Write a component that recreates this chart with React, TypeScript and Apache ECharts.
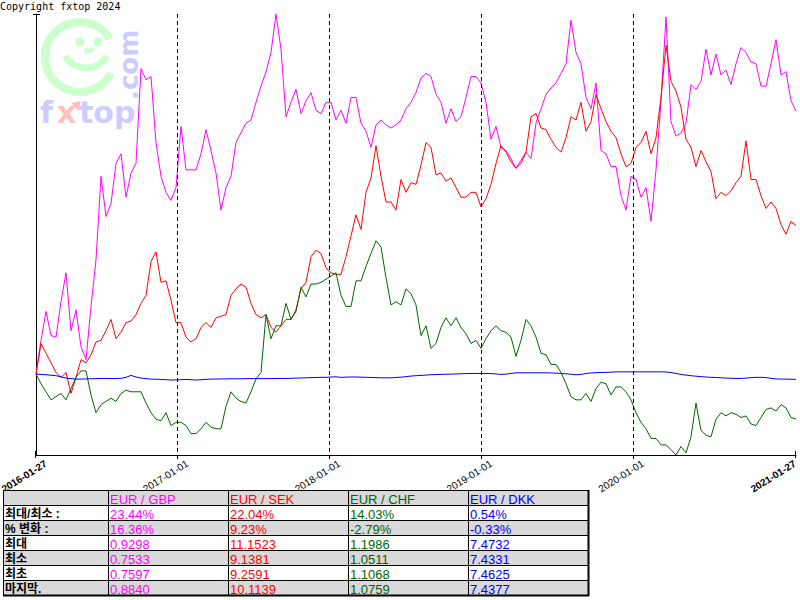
import React, { useEffect, useRef } from "react";
import * as echarts from "echarts";

// ---- data -----------------------------------------------------------------
const startDate = "2016-01-27";
const endDate = "2021-01-27";
const axisDates = ["2016-01-27", "2017-01-01", "2018-01-01", "2019-01-01", "2020-01-01", "2021-01-27"];
const yearLines = ["2017-01-01", "2018-01-01", "2019-01-01", "2020-01-01"];

const pairNames = ["EUR / GBP", "EUR / SEK", "EUR / CHF", "EUR / DKK"];
const pairColors = ["#ff00ff", "#ff0000", "#006600", "#0000ff"];

// % change versus the first quote, sampled evenly from 2016-01-27 to 2021-01-27
const eurGbp = [
  0, 2.1, 3.9, 2.4, 2.3, 4.5, 6.3, 2.7, 4.0, 1.7, 0.9, 4.2, 7.1, 12.3, 9.8, 10.6, 13.1, 13.7, 11.0, 12.5, 13.1, 19.0, 18.3, 18.5, 14.4, 12.3, 11.3, 10.8, 11.6, 15.4, 12.7,
  12.7, 12.7, 13.7, 15.2, 13.9, 12.5, 10.2, 11.6, 12.3, 14.4, 15.0, 15.6, 15.8, 16.9, 17.9, 18.8, 20.0, 22.39, 20.2, 16.0, 16.9, 17.7, 16.2, 17.0, 17.5, 16.4, 16.2, 16.9, 16.9, 15.8,
  16.4, 15.6, 17.2, 17.2, 15.6, 15.1, 14.1, 15.5, 15.8, 15.5, 15.3, 15.5, 15.8, 16.5, 16.9, 17.5, 18.4, 18.7, 18.5, 17.4, 16.9, 15.6, 16.5, 15.7, 16.0, 17.2, 18.5, 18.5, 18.1, 16.9,
  14.6, 15.4, 14.1, 13.9, 13.4, 12.8, 13.3, 13.8, 13.4, 15.6, 16.5, 17.4, 17.8, 18.1, 18.7, 19.3, 22.0, 20.0, 19.3, 17.2, 16.5, 18.1, 13.9, 13.7, 12.9, 12.9, 11.1, 10.2, 12.3, 12.1,
  11.0, 11.6, 9.5, 12.7, 17.0, 22.2, 15.7, 14.8, 15.0, 15.6, 18.0, 17.7, 18.2, 20.2, 18.6, 19.9, 18.6, 18.9, 18.0, 19.3, 20.3, 20.0, 19.4, 19.3, 17.9, 17.9, 19.3, 20.8, 18.6, 18.8, 17.0, 16.36,
];
const eurSek = [
  0, 1.9, 1.3, 0.7, 0.1, -0.2, 0.1, -1.2, -0.2, 0.9, 0.7, 1.2, 2.0, 2.1, 2.7, 3.4, 2.2, 2.6, 3.2, 3.3, 3.7, 4.4, 4.9, 7.0, 7.6, 5.7, 5.8, 4.6, 3.2, 3.2, 2.3,
  2.0, 2.2, 2.9, 3.2, 2.9, 3.5, 3.6, 3.7, 4.9, 5.3, 5.6, 5.4, 4.4, 3.7, 3.5, 3.7, 2.9, 2.6, 3.0, 3.4, 3.4, 4.0, 5.3, 5.7, 7.3, 7.7, 7.5, 6.6, 6.3, 6.2,
  6.2, 7.3, 8.6, 9.9, 9.0, 11.3, 12.2, 14.2, 12.3, 10.7, 10.7, 10.2, 12.1, 11.3, 11.9, 11.8, 13.0, 14.4, 14.1, 12.4, 12.5, 12.0, 12.2, 11.6, 11.0, 11.0, 11.3, 11.3, 10.4, 10.9,
  11.8, 13.1, 14.2, 13.8, 13.2, 12.8, 13.1, 13.8, 16.0, 16.2, 15.3, 15.2, 14.6, 14.1, 13.8, 14.7, 16.0, 15.8, 16.9, 15.1, 15.7, 17.4, 16.5, 15.7, 15.1, 14.7, 13.7, 12.9, 13.1, 14.1,
  14.4, 15.1, 13.7, 14.7, 17.2, 20.45, 18.2, 17.6, 16.6, 14.6, 14.1, 12.9, 13.9, 13.2, 12.6, 10.9, 11.3, 11.1, 11.4, 11.9, 12.3, 14.5, 12.1, 12.1, 11.1, 10.3, 10.7, 10.3, 9.3, 8.7, 9.5, 9.23,
];
const eurChf = [
  0, -0.6, -1.1, -1.6, -1.4, -1.2, -1.6, -0.9, -0.2, 0.2, 0.2, -1.3, -2.4, -1.9, -1.7, -1.5, -1.7, -1.2, -1.0, -1.1, -1.1, -1.1, -1.8, -2.4, -2.8, -2.9, -2.4, -3.2, -3.0, -3.0, -3.2,
  -3.7, -3.7, -3.4, -3.0, -3.3, -3.4, -3.4, -2.0, -1.1, -1.5, -1.7, -1.8, -1.1, -0.3, 0.1, 3.7, 2.2, 3.0, 3.0, 4.4, 3.4, 3.9, 5.4, 4.8, 5.6, 5.6, 5.7, 5.9, 6.1, 6.3,
  4.9, 4.2, 4.2, 5.8, 5.8, 6.7, 7.5, 8.29, 7.9, 6.0, 4.3, 4.5, 4.3, 5.3, 5.0, 4.3, 2.4, 3.0, 1.6, 1.9, 2.9, 3.5, 3.0, 3.5, 2.9, 2.5, 1.9, 2.1, 1.6, 2.2,
  2.7, 3.0, 2.7, 2.6, 2.3, 1.1, 2.1, 3.4, 3.0, 2.3, 1.3, 1.2, 0.6, 0.6, 0.1, -0.6, -1.4, -1.6, -1.6, -1.2, -1.7, -0.9, -0.5, -0.6, -1.3, -0.8, -0.8, -1.1, -1.6, -2.4,
  -3.0, -3.4, -4.0, -4.0, -4.4, -4.4, -4.7, -5.03, -4.5, -4.9, -3.9, -1.8, -3.5, -3.8, -3.9, -2.8, -2.4, -2.6, -2.4, -2.5, -2.7, -2.6, -3.1, -3.2, -2.7, -2.2, -2.1, -2.3, -1.9, -2.1, -2.7, -2.79,
];
const eurDkk = [
  0, -0.02, -0.04, -0.07, -0.1, -0.17, -0.25, -0.28, -0.31, -0.31, -0.3, -0.29, -0.28, -0.27, -0.27, -0.28, -0.27, -0.26, -0.2, -0.08, -0.18, -0.25, -0.28, -0.31, -0.32, -0.33, -0.35, -0.37, -0.36, -0.35, -0.33,
  -0.35, -0.37, -0.35, -0.33, -0.31, -0.31, -0.3, -0.3, -0.29, -0.29, -0.29, -0.28, -0.28, -0.28, -0.28, -0.28, -0.28, -0.27, -0.27, -0.27, -0.26, -0.25, -0.24, -0.23, -0.22, -0.21, -0.2, -0.2, -0.18, -0.17,
  -0.2, -0.19, -0.18, -0.18, -0.19, -0.2, -0.21, -0.22, -0.23, -0.23, -0.23, -0.21, -0.19, -0.16, -0.12, -0.1, -0.08, -0.06, -0.04, -0.03, -0.02, -0.01, 0, 0.01, 0.02, 0.03, 0.04, 0.04, 0.04, 0.04,
  0.03, 0.01, -0.02, 0, 0.04, 0.08, 0.08, 0.08, 0.08, 0.08, 0.08, 0.08, 0.07, 0.06, 0.04, 0.02, -0.01, -0.04, -0.02, 0.04, 0.07, 0.09, 0.1, 0.11, 0.12, 0.14, 0.14, 0.14, 0.14, 0.14,
  0.14, 0.14, 0.14, 0.14, 0.14, 0.13, 0.1, 0.04, -0.02, -0.06, -0.1, -0.13, -0.16, -0.18, -0.2, -0.21, -0.23, -0.25, -0.26, -0.27, -0.27, -0.25, -0.22, -0.2, -0.2, -0.22, -0.26, -0.3, -0.31, -0.31, -0.32, -0.33,
];

const yMin = -5.03;
const yMax = 22.39;

const rowLabels = ["최대/최소 :", "% 변화 :", "최대", "최소", "최초", "마지막."];
const gbpStats = ["23.44%", "16.36%", "0.9298", "0.7533", "0.7597", "0.8840"];
const sekStats = ["22.04%", "9.23%", "11.1523", "9.1381", "9.2591", "10.1139"];
const chfStats = ["14.03%", "-2.79%", "1.1986", "1.0511", "1.1068", "1.0759"];
const dkkStats = ["0.54%", "-0.33%", "7.4732", "7.4331", "7.4625", "7.4377"];

const ts = (d: string) => Date.parse(d + "T00:00:00Z");

export default function App() {
  const ref = useRef<HTMLDivElement>(null);

  useEffect(() => {
    if (!ref.current) return;
    const chart = echarts.init(ref.current, null, { renderer: "svg" });
    const t0 = ts(startDate);
    const t1 = ts(endDate);
    const toPairs = (arr: number[]) => arr.map((v, i) => [t0 + ((t1 - t0) * i) / (arr.length - 1), v]);
    const seriesData = [eurGbp, eurSek, eurChf, eurDkk];

    chart.setOption({
      animation: false,
      backgroundColor: "#ffffff",
      grid: { left: 36, right: 4, top: 14, bottom: 145 },
      tooltip: { show: false },
      xAxis: {
        type: "time",
        min: t0,
        max: t1,
        axisLine: { show: true, onZero: false, lineStyle: { color: "#000", width: 1 } },
        axisTick: { show: false },
        axisLabel: { show: false },
        splitLine: { show: false },
      },
      yAxis: {
        type: "value",
        min: yMin,
        max: yMax,
        axisLine: { show: true, onZero: false, lineStyle: { color: "#000", width: 1 } },
        axisTick: { show: false },
        axisLabel: { show: false },
        splitLine: { show: false },
      },
      series: seriesData.map((arr, i) => ({
        name: pairNames[i],
        type: "line",
        data: toPairs(arr),
        symbol: "none",
        showSymbol: false,
        silent: true,
        lineStyle: { width: 1, color: pairColors[i] },
        itemStyle: { color: pairColors[i] },
        emphasis: { disabled: true },
      })),
    });

    const px = (d: string) => chart.convertToPixel({ xAxisIndex: 0 }, ts(d)) as number;
    const axisY = Math.round(chart.convertToPixel({ yAxisIndex: 0 }, yMin) as number);
    const topY = Math.round(chart.convertToPixel({ yAxisIndex: 0 }, yMax) as number);
    const x0 = Math.round(px(startDate));

    const mint = "#ccffcc";
    const lav = "#ccccff";
    const pink = "#ffc0c0";
    const D = Math.PI / 180;
    const els: any[] = [];

    // watermark logo
    els.push(
      { type: "arc", shape: { cx: 80, cy: 57, r: 35, startAngle: 28 * D, endAngle: 328 * D, clockwise: true }, style: { stroke: mint, lineWidth: 8, fill: null } },
      { type: "rect", shape: { x: 41, y: 48, width: 9, height: 8 }, style: { fill: mint } },
      { type: "circle", shape: { cx: 80, cy: 42, r: 4.5 }, style: { fill: mint } },
      { type: "circle", shape: { cx: 98, cy: 42, r: 4.5 }, style: { fill: mint } },
      { type: "polygon", shape: { points: [[84, 49], [93, 47], [94, 52], [85, 54]] }, style: { fill: mint } },
      { type: "arc", shape: { cx: 86, cy: 44, r: 24, startAngle: 30 * D, endAngle: 150 * D, clockwise: true }, style: { stroke: mint, lineWidth: 7, fill: null } },
      { type: "text", x: 40, y: 112, style: { text: "f", fontSize: 30, fontWeight: "bold", fontFamily: "DejaVu Sans", fill: lav, verticalAlign: "middle" } },
      { type: "text", x: 57, y: 112, style: { text: "x", fontSize: 30, fontWeight: "bold", fontFamily: "DejaVu Sans", fill: pink, verticalAlign: "middle" } },
      { type: "polygon", shape: { points: [[71, 103], [81, 101], [79, 111]] }, style: { fill: pink } },
      { type: "text", x: 79, y: 112, style: { text: "top", fontSize: 30, fontWeight: "bold", fontFamily: "DejaVu Sans", fill: lav, verticalAlign: "middle" } },
      { type: "text", x: 129, y: 100, rotation: Math.PI / 2, style: { text: ".com", fontSize: 26, fontWeight: "bold", fontFamily: "DejaVu Sans", fill: lav, align: "left", verticalAlign: "middle" } },
      { type: "text", x: 0, y: 1, style: { text: "Copyright fxtop 2024", fontSize: 10, fontFamily: "DejaVu Sans Mono", fill: "#000", verticalAlign: "top" } }
    );

    // axis decorations
    els.push({ type: "line", shape: { x1: x0 - 3, y1: topY + 0.5, x2: x0 + 4, y2: topY + 0.5 }, style: { stroke: "#000", lineWidth: 1 } });
    [startDate, endDate].forEach((d) => {
      const x = Math.round(px(d)) - 0.5;
      els.push({ type: "line", shape: { x1: x, y1: axisY - 4, x2: x, y2: axisY + 3 }, style: { stroke: "#000", lineWidth: 1 } });
    });
    yearLines.forEach((d) => {
      const x = Math.round(px(d)) + 0.5;
      els.push({ type: "line", z: 10, shape: { x1: x, y1: topY, x2: x, y2: axisY + 5 }, style: { stroke: "#000", lineWidth: 1, lineDash: [4, 3] } });
    });
    axisDates.forEach((d, i) => {
      const edge = i === 0 || i === axisDates.length - 1;
      els.push({
        type: "text",
        x: Math.min(px(d) + 7, 792),
        y: axisY + 3,
        rotation: 32 * D,
        style: {
          text: d,
          fontSize: 10,
          lineHeight: 11,
          fontWeight: edge ? "bold" : "normal",
          fontFamily: "Liberation Sans",
          fill: "#000",
          align: "right",
          verticalAlign: "top",
        },
      });
    });

    // statistics table
    const colX = [3, 108, 228, 348, 468, 588];
    const rowTop = 490;
    const rowH = 15;
    const columns = [gbpStats, sekStats, chfStats, dkkStats];
    const nRows = rowLabels.length + 1;
    for (let r = 0; r < nRows; r++) {
      els.push({ type: "rect", shape: { x: colX[0], y: rowTop + r * rowH, width: colX[5] - colX[0], height: rowH }, style: { fill: r % 2 === 0 ? "#d9d9d9" : "#ffffff" } });
    }
    for (let r = 0; r <= nRows; r++) {
      const y = rowTop + r * rowH + 0.5;
      els.push({ type: "line", shape: { x1: colX[0], y1: y, x2: colX[5] + 1, y2: y }, style: { stroke: "#000", lineWidth: r === nRows ? 2 : 1 } });
    }
    colX.forEach((x, i) => {
      const lastCol = i === colX.length - 1;
      els.push({ type: "line", shape: { x1: x + 0.5, y1: rowTop, x2: x + 0.5, y2: rowTop + nRows * rowH + 1 }, style: { stroke: "#000", lineWidth: lastCol ? 2 : 1 } });
    });
    pairNames.forEach((name, c) => {
      els.push({ type: "text", x: colX[c + 1] + 2, y: rowTop + rowH / 2 + 1.5, style: { text: name, fontSize: 13, lineHeight: 13, fontFamily: "Liberation Sans", fill: pairColors[c], verticalAlign: "middle" } });
    });
    rowLabels.forEach((label, r) => {
      const cy = rowTop + (r + 1) * rowH + rowH / 2 + 1;
      els.push({ type: "text", x: colX[0] + 2, y: cy, style: { text: label, fontSize: 12, lineHeight: 13, fontWeight: "bold", fontFamily: "'Liberation Sans', 'Noto Sans CJK KR'", fill: "#000", verticalAlign: "middle" } });
      columns.forEach((col, c) => {
        els.push({ type: "text", x: colX[c + 1] + 2, y: cy + 0.5, style: { text: col[r], fontSize: 13, lineHeight: 13, fontFamily: "Liberation Sans", fill: pairColors[c], verticalAlign: "middle" } });
      });
    });

    chart.setOption({ graphic: els });

    return () => chart.dispose();
  }, []);

  return <div ref={ref} style={{ position: "absolute", left: 0, top: 0, width: 800, height: 600 }} />;
}
